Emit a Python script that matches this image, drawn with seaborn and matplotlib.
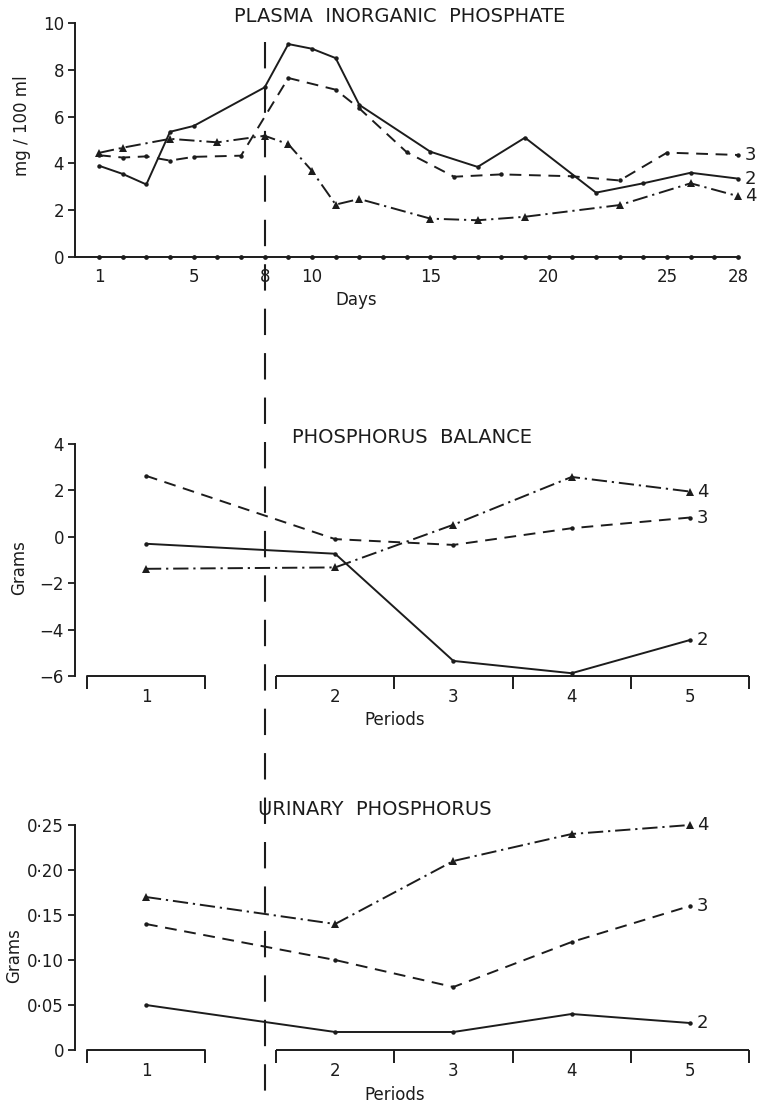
import matplotlib
matplotlib.use("Agg")
import matplotlib.pyplot as plt
import seaborn as sns
import numpy as np
from matplotlib.transforms import blended_transform_factory
from matplotlib.lines import Line2D

# ---------------- data ----------------
# Plasma inorganic phosphate (mg / 100 ml) by day
days_s2 = [1, 2, 3, 4, 5, 8, 9, 10, 11, 12, 15, 17, 19, 22, 24, 26, 28]
plasma_s2 = [3.9, 3.55, 3.1, 5.35, 5.6, 7.25, 9.1, 8.9, 8.5, 6.5, 4.5, 3.85, 5.1, 2.75, 3.15, 3.6, 3.35]
days_s3 = [1, 2, 3, 4, 5, 7, 9, 11, 12, 14, 16, 18, 21, 23, 25, 28]
plasma_s3 = [4.35, 4.25, 4.3, 4.12, 4.28, 4.33, 7.65, 7.15, 6.35, 4.48, 3.43, 3.53, 3.45, 3.27, 4.46, 4.36]
days_s4 = [1, 2, 4, 6, 8, 9, 10, 11, 12, 15, 17, 19, 23, 26, 28]
plasma_s4 = [4.45, 4.67, 5.05, 4.9, 5.18, 4.82, 3.68, 2.24, 2.48, 1.64, 1.57, 1.72, 2.22, 3.15, 2.6]
all_days = list(range(1, 29))
day_ticks = [1, 5, 8, 10, 15, 20, 25, 28]
plasma_yticks = [0, 2, 4, 6, 8, 10]

# Periods
period_labels = ["1", "2", "3", "4", "5"]
# Phosphorus balance (grams)
balance_s2 = [-0.3, -0.73, -5.35, -5.88, -4.45]
balance_s3 = [2.63, -0.1, -0.35, 0.37, 0.83]
balance_s4 = [-1.38, -1.32, 0.52, 2.58, 1.95]
balance_yticks = [-6, -4, -2, 0, 2, 4]
balance_yticklabels = ["−6", "−4", "−2", "0", "2", "4"]
# Urinary phosphorus (grams)
urinary_s2 = [0.05, 0.02, 0.02, 0.04, 0.03]
urinary_s3 = [0.14, 0.10, 0.07, 0.12, 0.16]
urinary_s4 = [0.17, 0.14, 0.21, 0.24, 0.25]
urinary_yticks = [0, 0.05, 0.10, 0.15, 0.20, 0.25]
urinary_yticklabels = ["0", "0·05", "0·10", "0·15", "0·20", "0·25"]

# ---------------- style ----------------
sns.set_theme(style="white")
plt.rcParams["font.family"] = ["DejaVu Sans"]
plt.rcParams["lines.scale_dashes"] = False
INK = "#1c1c1c"
LW = 1.4
DASH3 = (0, (8.5, 5.5))
DASH4 = (0, (11, 3.5, 1.6, 3.5))
styles = {"2": ("-", "o", 3.2), "3": (DASH3, "o", 3.2), "4": (DASH4, "^", 5.5)}

W, H = 758, 1108
fig = plt.figure(figsize=(W / 100, H / 100), dpi=100)
fig.patch.set_facecolor("white")


def rect(l, r, t, b):
    return [l / W, 1 - b / H, (r - l) / W, (b - t) / H]


ax1 = fig.add_axes(rect(75, 738, 23, 257))
ax2 = fig.add_axes(rect(75, 749, 444, 676))
ax3 = fig.add_axes(rect(75, 749, 825, 1050))

# positions of periods on the bracketed axis (layout)
period_pos = [1.0, 2.6, 3.6, 4.6, 5.6]


def draw_series(ax, x, y, name):
    ls, mk, ms = styles[name]
    sns.lineplot(x=x, y=y, ax=ax, color=INK, lw=LW, marker=mk, markersize=ms,
                 markeredgewidth=0, sort=False, clip_on=False)
    ax.lines[-1].set_linestyle(ls)
    ax.annotate(name, xy=(x[-1], y[-1]), xytext=(5, 0), textcoords="offset points",
                ha="left", va="center", fontsize=13, color=INK, annotation_clip=False)


def base_style(ax):
    for s in ["top", "right"]:
        ax.spines[s].set_visible(False)
    ax.spines["left"].set_color(INK)
    ax.spines["left"].set_linewidth(1.4)
    ax.tick_params(axis="y", direction="out", length=5, width=1.3, color=INK,
                   labelsize=12, labelcolor=INK, pad=3, left=True)
    ax.tick_params(axis="x", length=0, labelsize=12, labelcolor=INK)
    ax.set_facecolor("none")
    ax.grid(False)


# ---------- top panel ----------
base_style(ax1)
ax1.spines["bottom"].set_color(INK)
ax1.spines["bottom"].set_linewidth(1.4)
ax1.plot(all_days, [0] * len(all_days), ls="none", marker="o", ms=2.4, color=INK, clip_on=False)
draw_series(ax1, days_s2, plasma_s2, "2")
draw_series(ax1, days_s3, plasma_s3, "3")
draw_series(ax1, days_s4, plasma_s4, "4")
ax1.set_xlim(-0.014, 28)
ax1.set_ylim(0, 10)
ax1.set_xticks(day_ticks)
ax1.set_xticklabels([str(d) for d in day_ticks])
ax1.tick_params(axis="x", pad=8)
ax1.set_yticks(plasma_yticks)
ax1.set_xlabel("Days", fontsize=12, color=INK)
ax1.xaxis.set_label_coords(0.424, -0.145)
ax1.set_ylabel("mg / 100 ml", fontsize=12, color=INK)
ax1.yaxis.set_label_coords(-0.066, 0.56)
ax1.text(0.489, 1.028, "PLASMA  INORGANIC  PHOSPHATE", transform=ax1.transAxes,
         ha="center", va="center", fontsize=14, color=INK)


def bracket_axis(ax, ylab_coords):
    ax.spines["bottom"].set_visible(False)
    tr = blended_transform_factory(ax.transData, ax.transAxes)
    drop = 13 / (ax.get_position().height * H)
    kw = dict(color=INK, lw=1.4, transform=tr, clip_on=False, solid_capstyle="butt")
    ax.plot([0.5, 0.5, 1.5, 1.5], [-drop, 0, 0, -drop], **kw)
    ax.plot([2.1, 6.1], [0, 0], **kw)
    for xv in [2.1, 3.1, 4.1, 5.1, 6.1]:
        ax.plot([xv, xv], [0, -drop], **kw)
    ax.set_xlim(0.4, 6.1)
    ax.set_xticks(period_pos)
    ax.set_xticklabels(period_labels)
    ax.tick_params(axis="x", pad=9)
    ax.set_xlabel("Periods", fontsize=12, color=INK)
    ax.xaxis.set_label_coords(0.475, ylab_coords)


# ---------- middle panel ----------
base_style(ax2)
draw_series(ax2, period_pos, balance_s2, "2")
draw_series(ax2, period_pos, balance_s3, "3")
draw_series(ax2, period_pos, balance_s4, "4")
ax2.set_ylim(-6, 4)
ax2.set_yticks(balance_yticks)
ax2.set_yticklabels(balance_yticklabels)
bracket_axis(ax2, -0.151)
ax2.set_ylabel("Grams", fontsize=12, color=INK)
ax2.yaxis.set_label_coords(-0.07, 0.466)
ax2.text(0.5, 1.03, "PHOSPHORUS  BALANCE", transform=ax2.transAxes,
         ha="center", va="center", fontsize=14, color=INK)

# ---------- bottom panel ----------
base_style(ax3)
draw_series(ax3, period_pos, urinary_s2, "2")
draw_series(ax3, period_pos, urinary_s3, "3")
draw_series(ax3, period_pos, urinary_s4, "4")
ax3.set_ylim(0, 0.25)
ax3.set_yticks(urinary_yticks)
ax3.set_yticklabels(urinary_yticklabels)
bracket_axis(ax3, -0.16)
ax3.set_ylabel("Grams", fontsize=12, color=INK)
ax3.yaxis.set_label_coords(-0.077, 0.42)
ax3.text(0.445, 1.067, "URINARY  PHOSPHORUS", transform=ax3.transAxes,
         ha="center", va="center", fontsize=14, color=INK)

# ---------- vertical dashed divider at day 8 ----------
vtr = blended_transform_factory(ax1.transData, fig.transFigure)
fig.add_artist(Line2D([8, 8], [1 - 42 / H, 1 - 1102 / H], transform=vtr, color=INK,
                      lw=1.5, linestyle=(0, (19, 13))))

fig.savefig("out.png", dpi=100, facecolor="white")
